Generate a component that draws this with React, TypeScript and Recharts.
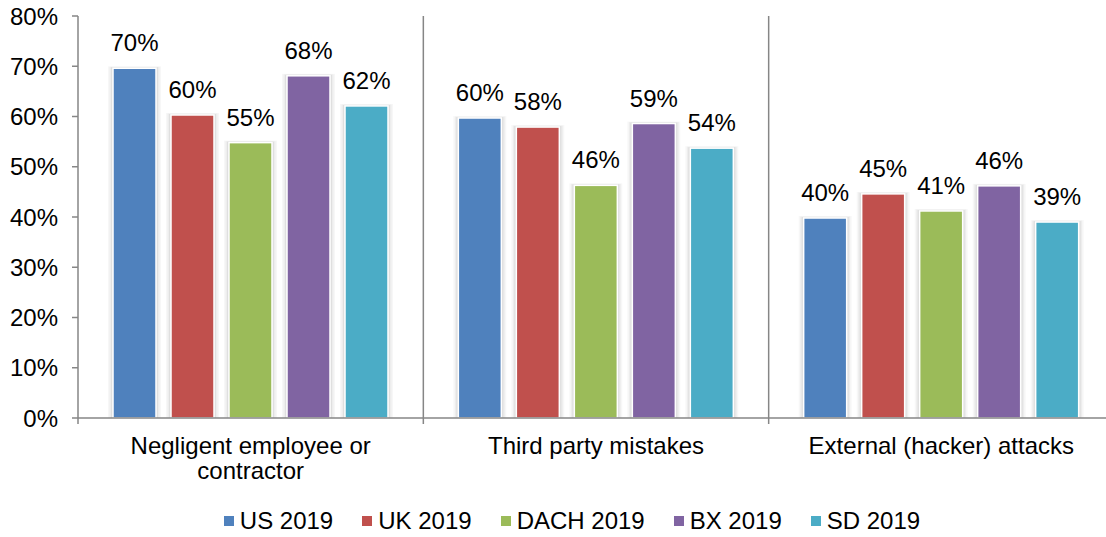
import React from 'react';
import { BarChart, Bar, XAxis, YAxis, ReferenceLine, Legend, LabelList } from 'recharts';

// data
const categories = ['Negligent employee or contractor', 'Third party mistakes', 'External (hacker) attacks'];
const us2019 = [69.6, 59.7, 39.8];
const uk2019 = [60.3, 57.9, 44.6];
const dach2019 = [54.8, 46.3, 41.2];
const bx2019 = [68.1, 58.6, 46.2];
const sd2019 = [62.1, 53.7, 39.0];
const yTicks = [0, 10, 20, 30, 40, 50, 60, 70, 80];

const series = [
  { key: 'us', name: 'US 2019', color: '#4F81BD' },
  { key: 'uk', name: 'UK 2019', color: '#C0504D' },
  { key: 'dach', name: 'DACH 2019', color: '#9BBB59' },
  { key: 'bx', name: 'BX 2019', color: '#8064A2' },
  { key: 'sd', name: 'SD 2019', color: '#4BACC6' },
];

const data = categories.map((name, i) => ({
  name,
  us: us2019[i],
  uk: uk2019[i],
  dach: dach2019[i],
  bx: bx2019[i],
  sd: sd2019[i],
}));

const FONT = '"Liberation Sans", Arial, sans-serif';
const AXIS = '#868686';
const MAX_CHARS = 26;

// simple word wrap on character count
const wrapWords = (text: string) => {
  const lines: string[] = [];
  let cur = '';
  text.split(' ').forEach((w) => {
    const next = cur ? `${cur} ${w}` : w;
    if (next.length > MAX_CHARS && cur) {
      lines.push(cur);
      cur = w;
    } else {
      cur = next;
    }
  });
  if (cur) lines.push(cur);
  return lines;
};

const ShadowBar = (props: any) => {
  const { x, y, width, height, fill } = props;
  if (!height || height <= 0) return null;
  return (
    <g>
      <rect x={x - 5} y={y - 2} width={width + 10} height={height + 2} fill="#000" fillOpacity={0.03} />
      <rect x={x - 3.5} y={y - 1.5} width={width + 7} height={height + 1.5} fill="#000" fillOpacity={0.04} />
      <rect x={x - 2} y={y - 1} width={width + 4} height={height + 1} fill="#000" fillOpacity={0.06} />
      <rect x={x} y={y} width={width} height={height} fill={fill} stroke="#fff" strokeWidth={1.5} />
    </g>
  );
};

// separator between categories, running on 6px past the axis as a tick mark
const Separator = (full: boolean) => (props: any) => {
  const { x1, y1, y2 } = props;
  const top = Math.min(y1, y2);
  const bottom = Math.max(y1, y2);
  return <line x1={x1} x2={x1} y1={full ? top : bottom} y2={bottom + 6} stroke={AXIS} strokeWidth={1.5} />;
};

const CategoryTick = (props: any) => {
  const { x, y, payload } = props;
  const lines = wrapWords(String(payload.value));
  return (
    <text x={x} y={y + 36} textAnchor="middle" fontSize={24} fontFamily={FONT} fill="#000">
      {lines.map((l, i) => (
        <tspan key={i} x={x} dy={i === 0 ? 0 : 25}>
          {l}
        </tspan>
      ))}
    </text>
  );
};

const renderLegend = () => (
  <div
    style={{
      display: 'flex',
      justifyContent: 'center',
      alignItems: 'center',
      height: 36,
      paddingLeft: 30,
      paddingTop: 4,
      boxSizing: 'border-box',
      fontFamily: FONT,
      fontSize: 24,
      color: '#000',
      gap: 29,
    }}
  >
    {series.map((s) => (
      <div key={s.key} style={{ display: 'flex', alignItems: 'center' }}>
        <span style={{ display: 'inline-block', width: 10, height: 10, background: s.color, marginRight: 6 }} />
        <span>{s.name}</span>
      </div>
    ))}
  </div>
);

export default function App() {
  return (
    <div style={{ position: 'fixed', left: 0, top: 0, width: 1106, height: 537, overflow: 'hidden', background: '#fff' }}>
      <BarChart
        width={1130}
        height={537}
        data={data}
        margin={{ top: 16, right: 16, bottom: 0, left: 0 }}
        barCategoryGap={35}
        barGap={15}
      >
        <XAxis
          dataKey="name"
          interval={0}
          height={83}
          tickSize={0}
          tickMargin={0}
          tickLine={false}
          tick={<CategoryTick />}
          axisLine={{ stroke: AXIS, strokeWidth: 1.5 }}
        />
        <YAxis
          domain={[0, 80]}
          ticks={yTicks}
          interval={0}
          width={78}
          tickSize={6}
          tickMargin={14}
          tickFormatter={(v: number) => `${v}%`}
          axisLine={{ stroke: AXIS, strokeWidth: 1.5 }}
          tickLine={{ stroke: AXIS, strokeWidth: 1.5 }}
          tick={{ fontSize: 24, fontFamily: FONT, fill: '#000' }}
        />
        <ReferenceLine x={categories[0]} position="start" stroke={AXIS} shape={Separator(false)} />
        <ReferenceLine x={categories[1]} position="start" stroke={AXIS} shape={Separator(true)} />
        <ReferenceLine x={categories[2]} position="start" stroke={AXIS} shape={Separator(true)} />
        <Legend verticalAlign="bottom" height={36} content={renderLegend} />
        {series.map((s) => (
          <Bar
            key={s.key}
            dataKey={s.key}
            name={s.name}
            fill={s.color}
            shape={<ShadowBar />}
            isAnimationActive={false}
          >
            <LabelList
              dataKey={s.key}
              position="top"
              offset={17}
              formatter={(v: any) => `${Math.round(Number(v))}%`}
              style={{ fontSize: 24, fontFamily: FONT, fill: '#000' }}
            />
          </Bar>
        ))}
      </BarChart>
    </div>
  );
}
